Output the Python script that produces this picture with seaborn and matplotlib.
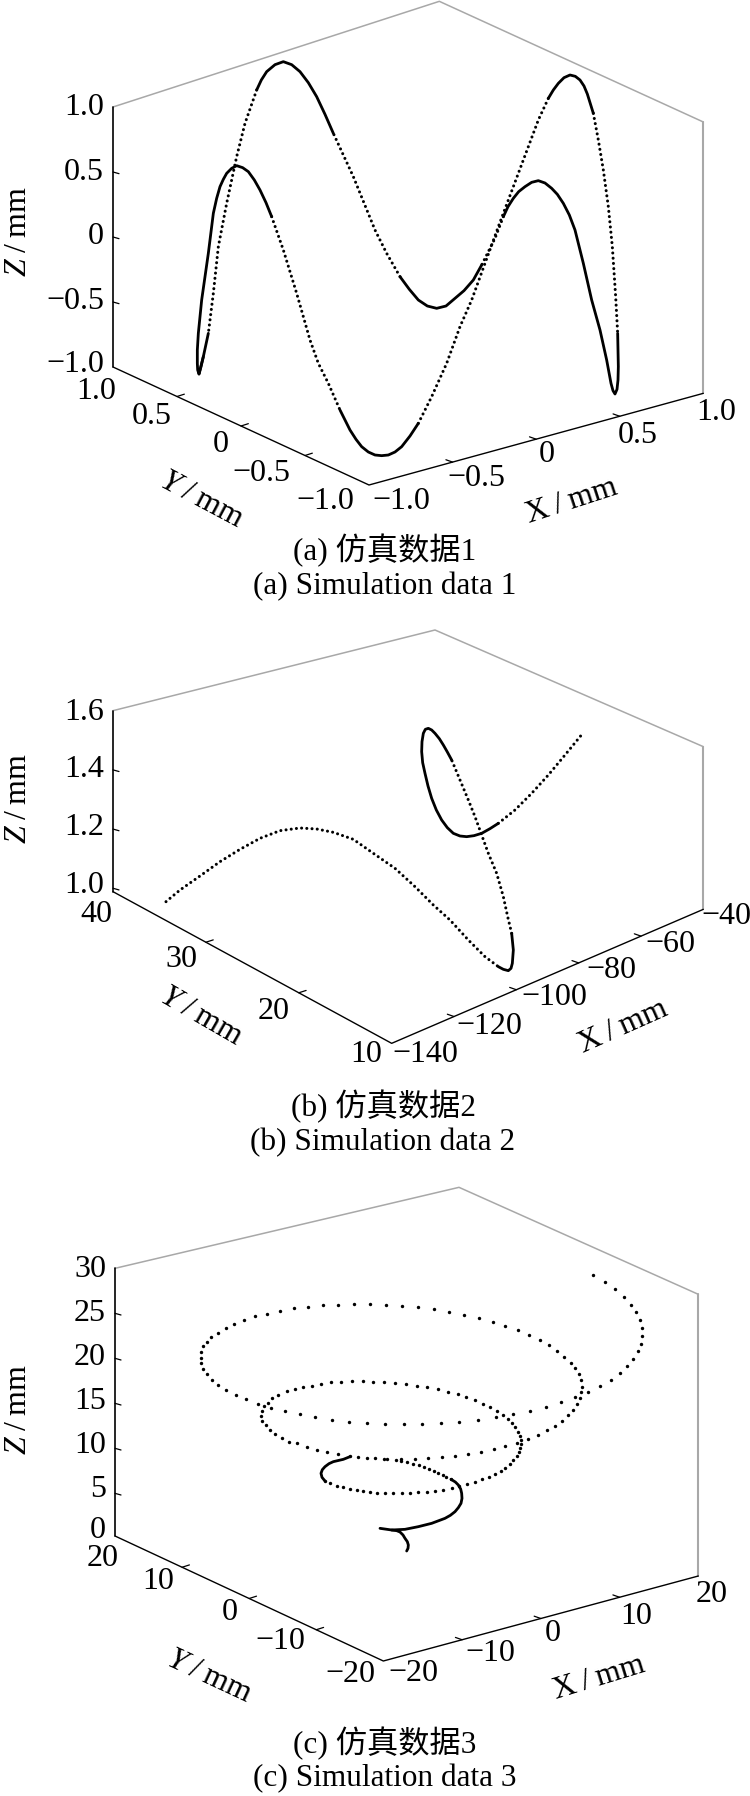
import numpy as np
import matplotlib
matplotlib.use("Agg")
import matplotlib.pyplot as plt
import seaborn as sns

# All curve values are read off the picture, in view units (1 unit = 1/3 px)
# measured from the top left of each panel.

# Panel a: closed curve, split into densely sampled (solid) and sparse (dotted) arcs
curve1_solid_u = [
    [610, 603, 597, 593, 592, 592, 595, 605, 625, 640, 650, 660, 670, 680, 695, 710, 728, 745, 763, 780, 798, 815],
    [1020, 1050, 1068, 1085, 1105, 1125, 1145, 1165, 1185, 1205, 1230, 1255],
    [1645, 1660, 1675, 1692, 1710, 1726, 1740, 1752, 1762, 1780],
    [1853, 1855, 1854, 1851, 1845, 1839, 1833, 1820, 1800, 1775, 1750, 1725, 1708, 1690, 1672, 1655, 1635, 1615,
     1595, 1575, 1556, 1540, 1524, 1510],
    [1445, 1420, 1392, 1365, 1338, 1310, 1282, 1255, 1228, 1200],
    [1000, 975, 950, 925, 900, 875, 850, 825, 800, 784, 770],
    [625, 610, 597],
]
curve1_solid_v = [
    [1070, 1100, 1122, 1110, 1090, 1050, 1000, 900, 760, 640, 595, 560, 538, 520, 505, 497, 503, 515, 540, 570, 608, 650],
    [1230, 1290, 1318, 1340, 1356, 1365, 1367, 1365, 1356, 1340, 1308, 1270],
    [295, 270, 250, 233, 225, 229, 240, 258, 282, 340],
    [1000, 1100, 1140, 1168, 1182, 1172, 1150, 1080, 990, 900, 790, 690, 645, 610, 583, 565, 549, 542,
     547, 560, 575, 595, 620, 650],
    [795, 840, 872, 895, 918, 925, 918, 900, 868, 830],
    [400, 343, 290, 248, 215, 194, 185, 194, 215, 240, 270],
    [1000, 1070, 1122],
]
curve1_dotted_u = [
    [815, 850, 890, 930, 955, 985, 1020],
    [1255, 1295, 1340, 1380, 1415, 1455, 1495, 1525, 1555, 1585, 1615, 1645],
    [1780, 1795, 1810, 1825, 1837, 1847, 1853],
    [1510, 1485, 1445],
    [1200, 1160, 1125, 1060, 1000],
    [770, 735, 710, 680, 655, 640, 625],
]
curve1_dotted_v = [
    [650, 750, 880, 1020, 1090, 1150, 1230],
    [1270, 1190, 1090, 980, 900, 790, 680, 600, 520, 440, 360, 295],
    [340, 420, 510, 620, 740, 890, 1000],
    [650, 715, 795],
    [830, 760, 690, 530, 400],
    [270, 370, 470, 610, 740, 880, 1000],
]

# Panel b: open curve
curve2_solid_u = [
    [1495, 1510, 1525, 1533, 1537, 1540, 1535],
    [1355, 1342, 1330, 1318, 1305, 1295, 1285, 1276, 1270, 1266, 1265, 1268, 1275, 1284, 1295, 1309, 1325, 1342, 1360,
     1380, 1400, 1422, 1445, 1470, 1495],
]
curve2_solid_v = [
    [1040, 1048, 1052, 1045, 1030, 990, 940],
    [420, 396, 375, 356, 340, 330, 325, 328, 340, 365, 395, 428, 460, 498, 535, 570, 600, 623, 640,
     648, 650, 647, 640, 626, 610],
]
curve2_dotted_u = [
    [498, 540, 600, 660, 720, 780, 840, 900, 950, 1000, 1060, 1120, 1185, 1245, 1300, 1350, 1405, 1455, 1495],
    [1535, 1523, 1510, 1490, 1465, 1445, 1425, 1405, 1380, 1355],
    [1495, 1545, 1595, 1645, 1695, 1750],
]
curve2_dotted_v = [
    [845, 810, 768, 725, 688, 655, 632, 624, 627, 637, 658, 700, 745, 800, 855, 900, 960, 1010, 1040],
    [940, 890, 830, 760, 700, 645, 590, 540, 480, 420],
    [610, 570, 520, 465, 405, 338],
]

# Panel c: spiral, the outer rings are single readable dots
curve3_dots_u = [
    1780, 1815, 1846, 1872, 1892, 1908, 1919, 1926, 1927, 1923, 1914, 1900, 1882, 1859, 1832, 1800,
    1765, 1725, 1682, 1637, 1590, 1540, 1487, 1433, 1378, 1323, 1267, 1211, 1156, 1100, 1048, 996,
    946, 899, 854, 812, 773, 738, 707, 679, 655, 635, 620, 610, 604, 602, 604, 610, 620, 632, 654,
    677, 703, 732, 766, 801, 840, 882, 924, 969, 1015, 1062, 1110, 1159, 1206, 1254, 1302, 1348,
    1393, 1436, 1478, 1516, 1554, 1588, 1619, 1647, 1672, 1693, 1712, 1725, 1736, 1743, 1745, 1743,
    1741, 1731, 1720, 1705, 1687, 1664, 1641, 1613, 1583, 1552, 1516, 1481, 1443, 1405, 1365, 1325,
    1283, 1244, 1204, 1160, 1015, 980, 950, 920, 890, 868, 845, 825, 810, 797, 787, 782, 785, 792,
    803, 815, 835, 860, 885, 910, 935, 962, 993, 1022, 1055, 1090, 1120, 1152, 1185, 1218, 1251,
    1282, 1313, 1344, 1373, 1399, 1424, 1449, 1471, 1491, 1508, 1524, 1536, 1546, 1555, 1560, 1563,
    1562, 1561, 1556, 1550, 1540, 1530, 1516, 1502, 1485, 1466, 1445, 1425, 1400, 1378, 1355, 1330,
    1305, 1280, 1255, 1230, 1205, 1180, 1155, 1130, 1110, 1090, 1070, 1050, 1030, 1010, 990, 975,
    1050, 1075, 1100, 1125, 1152, 1187, 1204, 1222, 1240, 1256, 1273, 1288, 1302, 1315, 1328, 1338, 1353,
]
curve3_dots_v = [
    285, 306, 327, 350, 374, 397, 420, 443, 467, 491, 513, 536, 558, 578, 599, 618,
    635, 652, 667, 680, 693, 703, 712, 719, 725, 729, 731, 732, 732, 728, 725, 719,
    712, 703, 694, 684, 671, 658, 645, 631, 615, 600, 583, 567, 550, 533, 515, 498, 486, 470, 458,
    445, 433, 420, 409, 401, 392, 385, 380, 376, 374, 373, 373, 374, 377, 382, 388, 396,
    405, 414, 425, 437, 451, 465, 480, 495, 513, 530, 548, 565, 582, 601, 620, 637,
    655, 673, 689, 705, 722, 737, 751, 765, 777, 788, 797, 807, 815, 822, 827, 832,
    834, 836, 838, 838, 822, 815, 810, 800, 790, 785, 773, 762, 750, 735, 722, 708, 692, 678,
    668, 655, 645, 632, 628, 622, 617, 612, 607, 605, 604, 604, 605, 606, 608, 611, 617,
    621, 628, 635, 643, 652, 661, 671, 681, 693, 704, 717, 729, 742, 755, 768, 780,
    792, 804, 816, 828, 840, 852, 863, 873, 882, 890, 898, 905, 912, 918, 925, 930,
    933, 936, 937, 938, 939, 940, 940, 940, 935, 933, 930, 927, 922, 918, 910, 903,
    828, 832, 834, 835, 836, 840, 842, 847, 851, 856, 860, 866, 873, 880, 885, 890, 898,
]
curve3_solid_u = [
    [975, 966, 963, 967, 975, 987, 1000, 1030, 1050],
    [1353, 1366, 1375, 1382, 1385, 1386, 1383, 1375, 1365, 1351, 1335, 1295, 1255, 1215, 1175, 1140],
    [1175, 1190, 1200, 1209, 1215, 1222, 1225, 1224, 1220],
]
curve3_solid_v = [
    [903, 892, 880, 869, 860, 851, 845, 838, 830],
    [898, 906, 915, 927, 940, 955, 970, 983, 995, 1006, 1015, 1030, 1040, 1048, 1050, 1045],
    [1050, 1052, 1056, 1065, 1075, 1085, 1095, 1105, 1113],
]

# Axis values
a_z_ticks = [1.0, 0.5, 0, -0.5, -1.0]
a_y_ticks = [1.0, 0.5, 0, -0.5, -1.0]
a_x_ticks = [-1.0, -0.5, 0, 0.5, 1.0]
a_z_labels = ["1.0", "0.5", "0", "−0.5", "−1.0"]
a_y_labels = ["1.0", "0.5", "0", "−0.5", "−1.0"]
a_x_labels = ["−1.0", "−0.5", "0", "0.5", "1.0"]

b_z_ticks = [1.6, 1.4, 1.2, 1.0]
b_y_ticks = [40, 30, 20, 10]
b_x_ticks = [-140, -120, -100, -80, -60, -40]
b_z_labels = ["1.6", "1.4", "1.2", "1.0"]
b_y_labels = ["40", "30", "20", "10"]
b_x_labels = ["−140", "−120", "−100", "−80", "−60", "−40"]

c_z_ticks = [30, 25, 20, 15, 10, 5, 0]
c_y_ticks = [20, 10, 0, -10, -20]
c_x_ticks = [-20, -10, 0, 10, 20]
c_z_labels = ["30", "25", "20", "15", "10", "5", "0"]
c_y_labels = ["20", "10", "0", "−10", "−20"]
c_x_labels = ["−20", "−10", "0", "10", "20"]

panels = [
    dict(top=0, height=600,
         corners=dict(lt=(339, 321), lb=(339, 1101), front=(1107, 1455),
                      rb=(2110, 1180), rt=(2110, 366), back=(1318, 4)),
         z=(a_z_ticks, a_z_labels, 1.0, -1.0), y=(a_y_ticks, a_y_labels, 1.0, -1.0),
         x=(a_x_ticks, a_x_labels, -1.0, 1.0),
         z_pos=[322, 518, 710, 905, 1095], z_right=312,
         y_pos=[(290, 1175), (455, 1250), (662, 1335), (785, 1420), (975, 1505)],
         x_pos=[(1205, 1505), (1430, 1437), (1640, 1365), (1912, 1307), (2148, 1238)],
         zlab=(55, 695), ylab=(605, 1500, -28), xlab=(1715, 1505, 18),
         caps=["(a) 仿真数据1", "(a) Simulation data 1"], cap_pos=(1154, 1650, 1760),
         solid=(curve1_solid_u, curve1_solid_v), dotted=(curve1_dotted_u, curve1_dotted_v)),
    dict(top=620, height=550,
         corners=dict(lt=(339, 272), lb=(339, 815), front=(1175, 1270),
                      rb=(2110, 868), rt=(2110, 380), back=(1305, 30)),
         z=(b_z_ticks, b_z_labels, 1.6, 0.9885), y=(b_y_ticks, b_y_labels, 40, 10),
         x=(b_x_ticks, b_x_labels, -140, -40),
         z_pos=[278, 448, 622, 797], z_right=312,
         y_pos=[(288, 885), (545, 1018), (822, 1175), (1100, 1305)],
         x_pos=[(1275, 1305), (1467, 1220), (1663, 1132), (1835, 1050), (2010, 972), (2180, 888)],
         zlab=(55, 537), ylab=(603, 1190, -30), xlab=(1870, 1220, 24),
         caps=["(b) 仿真数据2", "(b) Simulation data 2"], cap_pos=(1149, 1460, 1568),
         solid=(curve2_solid_u, curve2_solid_v), dotted=(curve2_dotted_u, curve2_dotted_v)),
    dict(top=1180, height=616,
         corners=dict(lt=(345, 265), lb=(345, 1068), front=(1150, 1443),
                      rb=(2095, 1188), rt=(2095, 343), back=(1377, 22)),
         z=(c_z_ticks, c_z_labels, 30, 0.26), y=(c_y_ticks, c_y_labels, 20, -20),
         x=(c_x_ticks, c_x_labels, -20, 20),
         z_pos=[268, 400, 532, 665, 797, 928, 1052], z_right=318,
         y_pos=[(308, 1135), (475, 1205), (690, 1297), (840, 1385), (1050, 1483)],
         x_pos=[(1240, 1480), (1470, 1420), (1657, 1360), (1908, 1308), (2135, 1243)],
         zlab=(55, 690), ylab=(628, 1490, -25), xlab=(1797, 1495, 17),
         caps=["(c) 仿真数据3", "(c) Simulation data 3"], cap_pos=(1155, 1690, 1797),
         solid=(curve3_solid_u, curve3_solid_v), dotted=None,
         dots=(curve3_dots_u, curve3_dots_v)),
]

FIG_W, FIG_H = 750, 1796
TICK_FONT = 23
CAP_FONT = 22.5
GREY = "#a8a8a8"
DOTS = (0, (0.01, 1.7))

sns.set_theme(style="white")
plt.rcParams["font.family"] = ["Liberation Serif", "Noto Sans CJK SC"]
plt.rcParams["mathtext.fontset"] = "custom"
plt.rcParams["mathtext.it"] = "Liberation Serif:italic"
plt.rcParams["mathtext.rm"] = "Liberation Serif"


def edge_marks(ax, ticks, v0, v1, p0, p1, offset):
    # short tick marks along one box edge, placed by tick value
    for t in ticks:
        if t in (v0, v1) or not min(v0, v1) < t < max(v0, v1):
            continue
        f = (t - v0) / (v1 - v0)
        u = p0[0] + f * (p1[0] - p0[0])
        v = p0[1] + f * (p1[1] - p0[1])
        ax.plot([u, u + offset[0]], [v, v + offset[1]], color="black", lw=0.9)


def draw_panel(p, fig):
    bottom = 1 - (p["top"] + p["height"]) / FIG_H
    ax = fig.add_axes([0, bottom, 1, p["height"] / FIG_H])
    ax.set_xlim(0, FIG_W * 3)
    ax.set_ylim(p["height"] * 3, 0)
    ax.axis("off")

    c = p["corners"]
    grey_path = [c["lt"], c["back"], c["rt"]]
    ax.plot(*zip(*grey_path), color=GREY, lw=1.1)
    ax.plot(*zip(c["rt"], c["rb"]), color=GREY, lw=1.5)
    ax.plot(*zip(c["lt"], c["lb"]), color="black", lw=1.2)
    ax.plot(*zip(c["lb"], c["front"], c["rb"]), color="black", lw=1.0)

    z_ticks, z_labels, z0, z1 = p["z"]
    y_ticks, y_labels, y0, y1 = p["y"]
    x_ticks, x_labels, x0, x1 = p["x"]
    edge_marks(ax, z_ticks, z0, z1, c["lt"], c["lb"], (18, 5))
    edge_marks(ax, y_ticks, y0, y1, c["lb"], c["front"], (22, -7))
    edge_marks(ax, x_ticks, x0, x1, c["front"], c["rb"], (-20, -7))

    for lab, v in zip(z_labels, p["z_pos"]):
        ax.text(p["z_right"], v, lab, ha="right", va="center", fontsize=TICK_FONT, color="black")
    for lab, (u, v) in zip(y_labels, p["y_pos"]):
        ax.text(u, v, lab, ha="center", va="center", fontsize=TICK_FONT, color="black")
    for lab, (u, v) in zip(x_labels, p["x_pos"]):
        ax.text(u, v, lab, ha="center", va="center", fontsize=TICK_FONT, color="black")

    ax.text(p["zlab"][0], p["zlab"][1], "$\\mathit{Z}$\u2009/\u2009mm", rotation=90,
            ha="center", va="center", fontsize=TICK_FONT, color="black")
    ax.text(p["ylab"][0], p["ylab"][1], "$\\mathit{Y}$\u2009/\u2009mm", rotation=p["ylab"][2], rotation_mode="anchor",
            ha="center", va="center", fontsize=TICK_FONT, color="black")
    ax.text(p["xlab"][0], p["xlab"][1], "X\u2009/\u2009mm", rotation=p["xlab"][2], rotation_mode="anchor",
            ha="center", va="center", fontsize=TICK_FONT, color="black")

    cap_u, cap_v1, cap_v2 = p["cap_pos"]
    ax.text(cap_u, cap_v1, p["caps"][0], ha="center", va="center", fontsize=CAP_FONT, color="black")
    ax.text(cap_u, cap_v2, p["caps"][1], ha="center", va="center", fontsize=CAP_FONT, color="black")

    # the curve itself
    if p["dotted"] is not None:
        for u, v in zip(*p["dotted"]):
            sns.lineplot(x=u, y=v, sort=False, estimator=None, color="black", lw=2.2,
                         linestyle=DOTS, dash_capstyle="round", ax=ax)
    for u, v in zip(*p["solid"]):
        sns.lineplot(x=u, y=v, sort=False, estimator=None, color="black", lw=2.0, ax=ax)
    if "dots" in p:
        sns.scatterplot(x=p["dots"][0], y=p["dots"][1], color="black", s=6, linewidth=0, ax=ax)
    ax.set_xlim(0, FIG_W * 3)
    ax.set_ylim(p["height"] * 3, 0)


fig = plt.figure(figsize=(FIG_W / 100, FIG_H / 100), dpi=100)
for panel in panels:
    draw_panel(panel, fig)
fig.savefig("out.png", dpi=100)
